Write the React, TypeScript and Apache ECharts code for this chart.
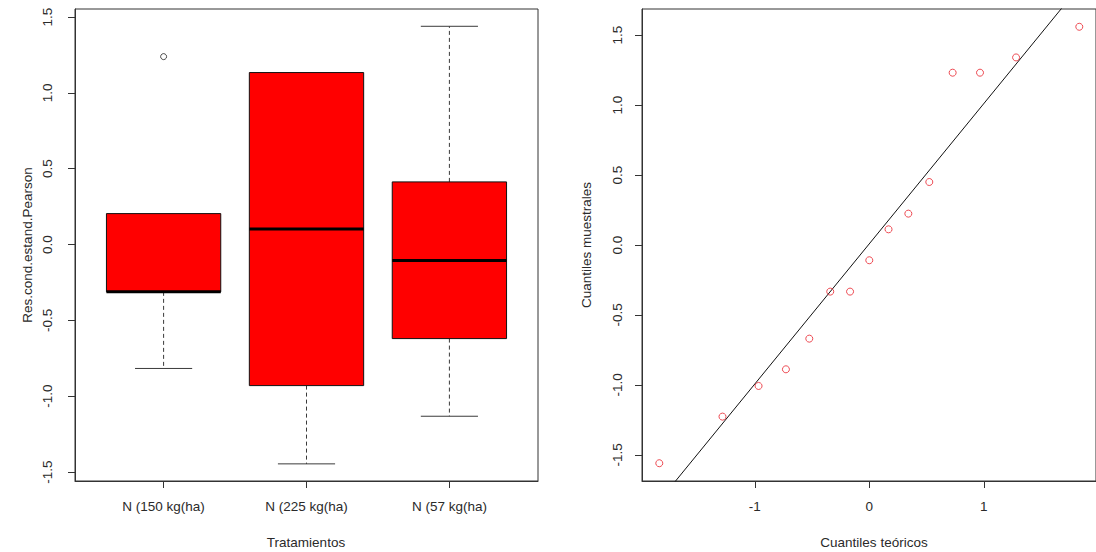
import React, { useEffect, useRef } from 'react';
import * as echarts from 'echarts';

// ---- Data ----
const treatments = ['N (150 kg(ha)', 'N (225 kg(ha)', 'N (57 kg(ha)'];
const boxMin = [-0.817, -1.446, -1.132];
const boxQ1 = [-0.312, -0.93, -0.62];
const boxMedian = [-0.312, 0.103, -0.105];
const boxQ3 = [0.204, 1.134, 0.413];
const boxMax = [0.204, 1.134, 1.439];
const outlierGroup = [1];
const outlierValue = [1.239];
const residTicks = [-1.5, -1, -0.5, 0, 0.5, 1, 1.5];

const theoreticalQ = [-1.834, -1.282, -0.967, -0.728, -0.524, -0.341, -0.168, 0, 0.168, 0.341, 0.524, 0.728, 0.967, 1.282, 1.834];
const sampleQ = [-1.559, -1.226, -1.007, -0.888, -0.669, -0.333, -0.333, -0.109, 0.112, 0.224, 0.45, 1.231, 1.231, 1.34, 1.559];
const qqLineX = [-2.2, 2.2];
const qqLineY = [-2.195, 2.212];
const qqXTicks = [-1, 0, 1];
const qqYTicks = [-1.5, -1, -0.5, 0, 0.5, 1, 1.5];

const FONT = "'Liberation Sans', Arial, sans-serif";
const TXT = '#2a2a2a';
const FS = 13.5;

export default function App() {
  const ref = useRef<HTMLDivElement>(null);
  useEffect(() => {
    if (!ref.current) return;
    const chart = echarts.init(ref.current, undefined, { renderer: 'svg' });

    const boxData = treatments.map((_, i) => [i + 1, boxMin[i], boxQ1[i], boxMedian[i], boxQ3[i], boxMax[i]]);

    const axisCommon = {
      axisLine: { show: true, onZero: false, lineStyle: { color: '#333', width: 1 } },
      splitLine: { show: false },
    };

    const option: any = {
      animation: false,
      backgroundColor: '#ffffff',
      textStyle: { fontFamily: FONT },
      grid: [
        { left: 75, top: 9, width: 463, height: 472, show: true, borderColor: '#333', borderWidth: 1 },
        { left: 642, top: 9, width: 464, height: 472, show: true, borderColor: '#333', borderWidth: 1 },
      ],
      xAxis: [
        {
          gridIndex: 0, type: 'value', min: 0.38, max: 3.62,
          ...axisCommon,
          axisTick: { show: true, customValues: [1, 2, 3], length: 7, lineStyle: { color: '#333' } },
          axisLabel: {
            customValues: [1, 2, 3], margin: 18, color: TXT, fontSize: FS, fontFamily: FONT,
            formatter: (v: number) => treatments[Math.round(v) - 1] ?? '',
          },
        },
        {
          gridIndex: 1, type: 'value', min: -1.985, max: 1.98,
          ...axisCommon,
          axisTick: { show: true, customValues: qqXTicks, length: 7, lineStyle: { color: '#333' } },
          axisLabel: { customValues: qqXTicks, margin: 18, color: TXT, fontSize: FS, fontFamily: FONT, formatter: (v: number) => String(v) },
        },
      ],
      yAxis: [
        {
          gridIndex: 0, type: 'value', min: -1.559, max: 1.553,
          ...axisCommon,
          axisTick: { show: true, customValues: residTicks, length: 7, lineStyle: { color: '#333' } },
          axisLabel: { customValues: residTicks, rotate: 90, margin: 21, color: TXT, fontSize: FS, fontFamily: FONT, formatter: (v: number) => v.toFixed(1) },
        },
        {
          gridIndex: 1, type: 'value', min: -1.686, max: 1.686,
          ...axisCommon,
          axisTick: { show: true, customValues: qqYTicks, length: 7, lineStyle: { color: '#333' } },
          axisLabel: { customValues: qqYTicks, rotate: 90, margin: 18, color: TXT, fontSize: FS, fontFamily: FONT, formatter: (v: number) => v.toFixed(1) },
        },
      ],
      series: [
        {
          type: 'custom',
          xAxisIndex: 0, yAxisIndex: 0,
          data: boxData,
          encode: { x: 0, y: [1, 2, 3, 4, 5] },
          renderItem: (_params: any, api: any) => {
            const x = api.value(0);
            const lo = api.value(1), q1 = api.value(2), med = api.value(3), q3 = api.value(4), hi = api.value(5);
            const halfW = 0.4, capHalf = 0.2;
            const children: any[] = [];
            const whisk = { stroke: '#3a3a3a', lineWidth: 1, lineDash: [4, 3] };
            const cap = { stroke: '#3a3a3a', lineWidth: 1 };
            if (hi > q3) {
              const a = api.coord([x, q3]); const b = api.coord([x, hi]);
              children.push({ type: 'line', shape: { x1: a[0], y1: a[1], x2: b[0], y2: b[1] }, style: whisk });
              const c1 = api.coord([x - capHalf, hi]); const c2 = api.coord([x + capHalf, hi]);
              children.push({ type: 'line', shape: { x1: c1[0], y1: c1[1], x2: c2[0], y2: c2[1] }, style: cap });
            }
            if (lo < q1) {
              const a = api.coord([x, q1]); const b = api.coord([x, lo]);
              children.push({ type: 'line', shape: { x1: a[0], y1: a[1], x2: b[0], y2: b[1] }, style: whisk });
              const c1 = api.coord([x - capHalf, lo]); const c2 = api.coord([x + capHalf, lo]);
              children.push({ type: 'line', shape: { x1: c1[0], y1: c1[1], x2: c2[0], y2: c2[1] }, style: cap });
            }
            const tl = api.coord([x - halfW, q3]); const br = api.coord([x + halfW, q1]);
            children.push({
              type: 'rect',
              shape: { x: tl[0], y: tl[1], width: br[0] - tl[0], height: br[1] - tl[1] },
              style: { fill: '#ff0000', stroke: '#111', lineWidth: 1 },
            });
            const m1 = api.coord([x - halfW, med]); const m2 = api.coord([x + halfW, med]);
            children.push({ type: 'line', shape: { x1: m1[0], y1: m1[1], x2: m2[0], y2: m2[1] }, style: { stroke: '#000', lineWidth: 3 } });
            return { type: 'group', children };
          },
        },
        {
          type: 'scatter',
          xAxisIndex: 0, yAxisIndex: 0,
          data: outlierGroup.map((g, i) => [g, outlierValue[i]]),
          symbol: 'circle', symbolSize: 6,
          itemStyle: { color: '#fff', borderColor: '#222', borderWidth: 1 },
          z: 5,
        },
        {
          type: 'line',
          xAxisIndex: 1, yAxisIndex: 1,
          data: qqLineX.map((x, i) => [x, qqLineY[i]]),
          showSymbol: false, symbol: 'none',
          lineStyle: { color: '#111', width: 1 },
          clip: true,
        },
        {
          type: 'scatter',
          xAxisIndex: 1, yAxisIndex: 1,
          data: theoreticalQ.map((x, i) => [x, sampleQ[i]]),
          symbol: 'circle', symbolSize: 7,
          itemStyle: { color: 'rgba(255,255,255,0)', borderColor: '#e8202a', borderWidth: 1 },
          z: 5,
        },
      ],
      graphic: [
        { type: 'text', x: 306, y: 542, style: { text: 'Tratamientos', fill: TXT, font: `${FS}px ${FONT}`, textAlign: 'center', textVerticalAlign: 'middle' } },
        { type: 'text', x: 874, y: 542, style: { text: 'Cuantiles teóricos', fill: TXT, font: `${FS}px ${FONT}`, textAlign: 'center', textVerticalAlign: 'middle' } },
        { type: 'text', x: 27, y: 245, rotation: Math.PI / 2, style: { text: 'Res.cond.estand.Pearson', fill: TXT, font: `${FS}px ${FONT}`, textAlign: 'center', textVerticalAlign: 'middle' } },
        { type: 'text', x: 586, y: 245, rotation: Math.PI / 2, style: { text: 'Cuantiles muestrales', fill: TXT, font: `${FS}px ${FONT}`, textAlign: 'center', textVerticalAlign: 'middle' } },
      ],
    };
    chart.setOption(option);
    return () => chart.dispose();
  }, []);
  return <div ref={ref} style={{ position: 'absolute', left: 0, top: 0, width: 1096, height: 552, background: '#fff' }} />;
}
